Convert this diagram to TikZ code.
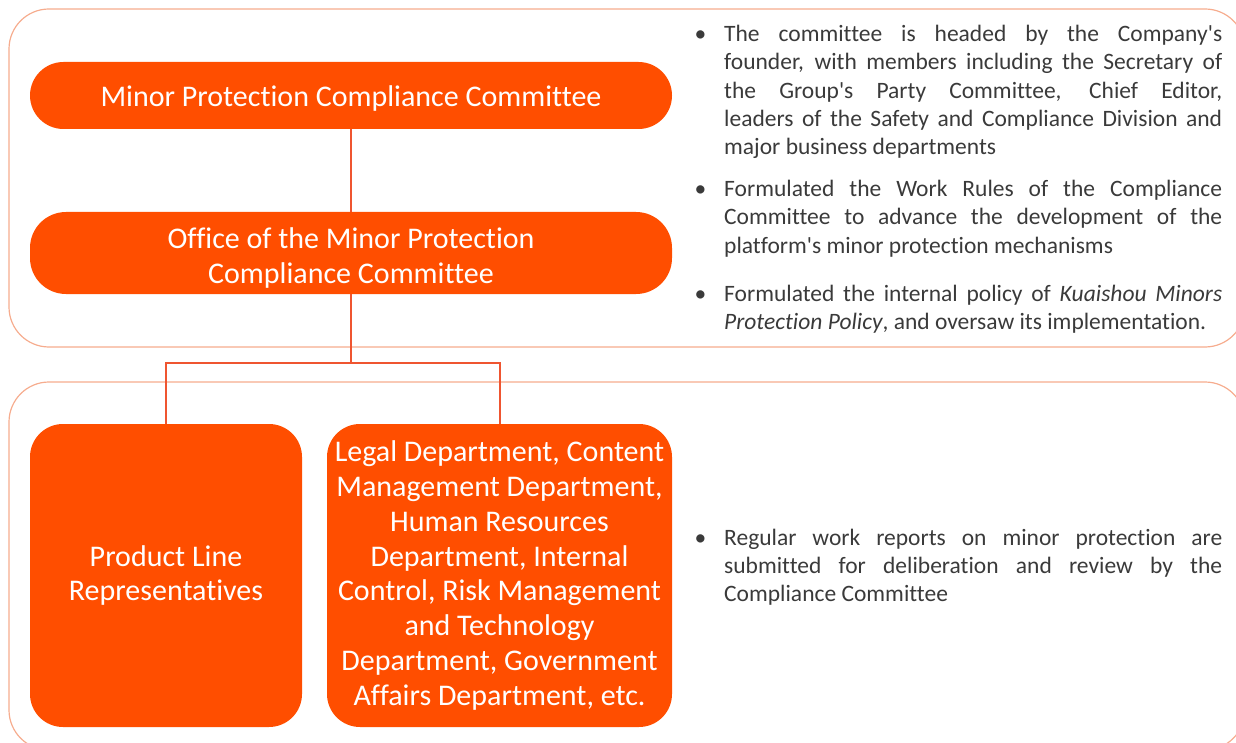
\documentclass[tikz,border=0pt]{standalone}
\usepackage{fontspec}
\setmainfont{Carlito}[Ligatures={NoCommon,NoRare}]

\definecolor{ksorange}{HTML}{FF4E00}
\definecolor{ksline}{HTML}{EF5530}
\definecolor{ksframe}{HTML}{F6AC8E}
\definecolor{ksgrey}{HTML}{3A3A3A}

% one justified line of a duty note, and its bullet
\newcommand{\jline}[1]{\makebox[\linewidth][s]{#1}\\}
\newcommand{\bul}{\leavevmode\llap{\textbullet\hspace{18pt}}}
\newcommand{\q}{\textquotesingle}

\tikzset{
  unit/.style={fill=ksorange, text=white, align=center, inner sep=0pt,
    font=\fontsize{30}{34.8}\selectfont},
  panel/.style={draw=ksframe, line width=1.2pt, rounded corners=40pt},
  link/.style={draw=ksline, line width=2pt},
  duty/.style={anchor=base west, inner sep=0pt, text=ksgrey,
    font=\fontsize{23.5}{28.3}\selectfont}
}

\begin{document}
\begin{tikzpicture}[x=1pt,y=-1pt]
\clip (0,0) rectangle (1236,743);
% the two panels run off the right edge
\draw[panel] (9,9) rectangle (1245,347);
\draw[panel] (9,382) rectangle (1245,750);

\node[unit, minimum width=642pt, minimum height=67pt, rounded corners=33.5pt,
  text height=27pt, text depth=4pt]
  (mpcc) at (351,95.5) {Minor Protection Compliance Committee};
\node[unit, minimum width=642pt, minimum height=82pt, rounded corners=36pt,
  text height=65pt, text depth=4pt]
  (office) at (351,253) {Office of the Minor Protection\\Compliance Committee};
\node[unit, minimum width=272pt, minimum height=303pt, rounded corners=33pt]
  (plr) at (166,575.5) {Product Line\\Representatives};
\node[unit, minimum width=345pt, minimum height=303pt, rounded corners=33pt]
  (depts) at (499.5,575.5) {Legal Department, Content\\Management Department,\\
  Human Resources\\Department, Internal\\Control, Risk Management\\
  and Technology\\Department, Government\\Affairs Department, etc.};

\coordinate (split) at (351,363);
\draw[link] (mpcc) -- (office);
\draw[link] (office) -- (split);
\draw[link] (plr) |- (split) -| (depts);

\node[duty] (head) at (724,41.5) {\parbox[t]{498pt}{\bul
  \jline{The committee is headed by the Company\q s}
  \jline{founder, with members including the Secretary of}
  \jline{the Group\q s Party Committee, Chief Editor,}
  \jline{leaders of the Safety and Compliance Division and}
  major business departments}};
\node[duty] (rules) at (724,196.5) {\parbox[t]{498pt}{\bul
  \jline{Formulated the Work Rules of the Compliance}
  \jline{Committee to advance the development of the}
  platform\q s minor protection mechanisms}};
\node[duty] (policy) at (724,301) {\parbox[t]{498pt}{\bul
  \jline{Formulated the internal policy of \textit{Kuaishou Minors}}
  \textit{Protection Policy}, and oversaw its implementation.}};
\node[duty] (report) at (724,545) {\parbox[t]{498pt}{\bul
  \jline{Regular work reports on minor protection are}
  \jline{submitted for deliberation and review by the}
  Compliance Committee}};
\end{tikzpicture}
\end{document}
